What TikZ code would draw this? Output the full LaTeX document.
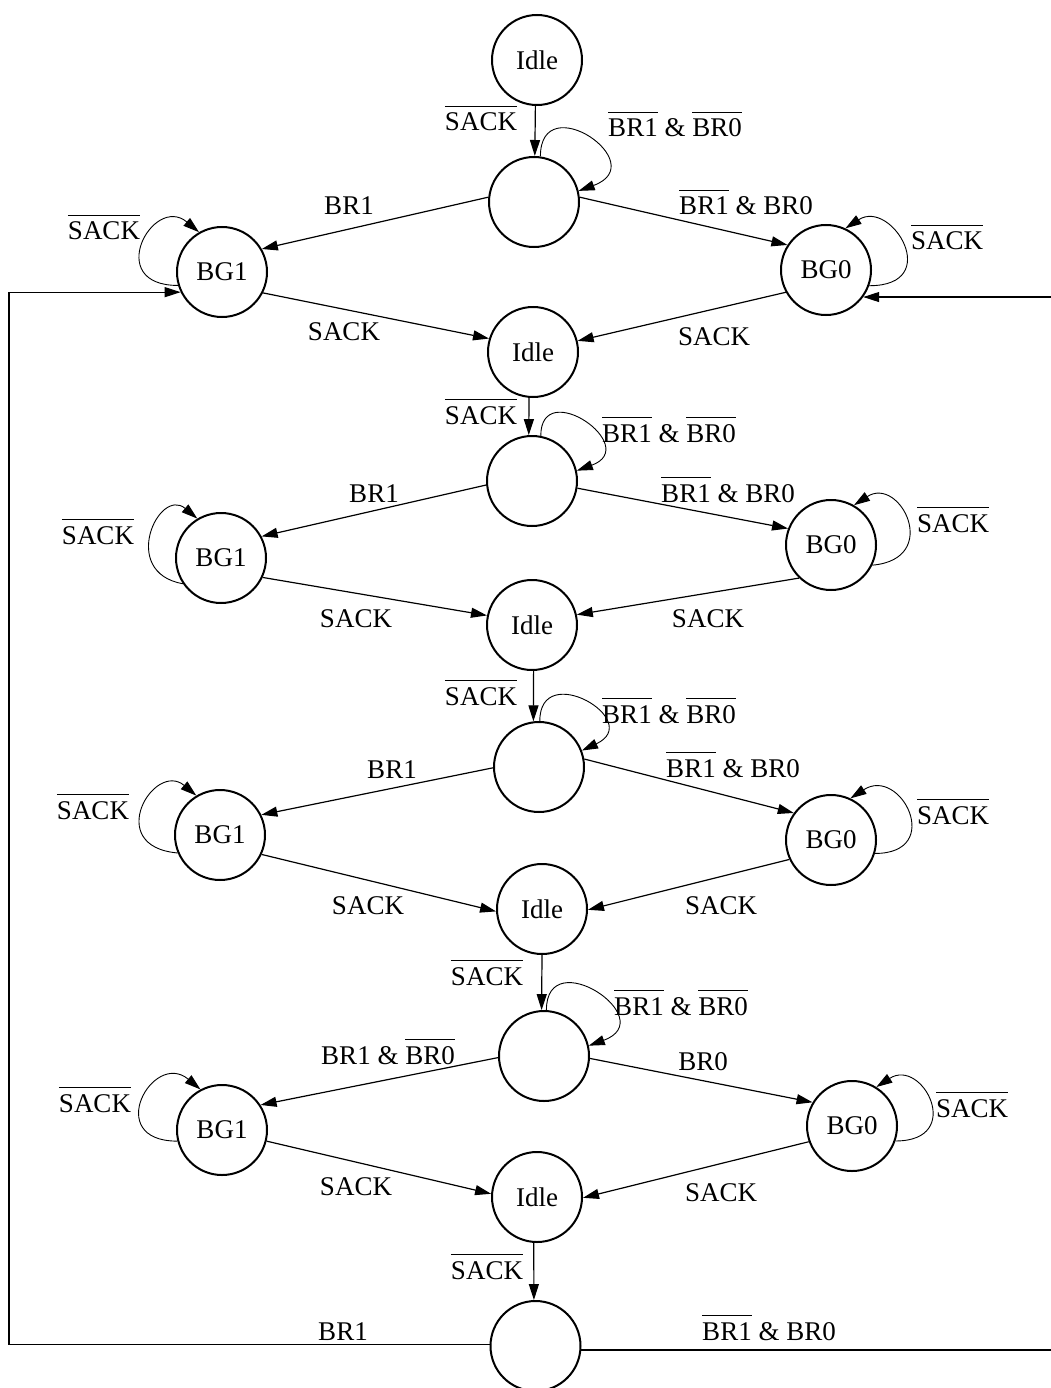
\documentclass[tikz,border=0pt]{standalone}
\usepackage{fontspec}
\setmainfont{Liberation Serif}
\usetikzlibrary{arrows.meta}
\newcommand\ovl[1]{\leavevmode\vbox{\hrule height 1.1pt\kern 6pt\hbox{#1}}}
\tikzset{
  every node/.style={font=\fontsize{27}{32}\selectfont},
  state/.style={circle, draw, line width=2pt, minimum size=90pt, inner sep=0pt},
  edge/.style={line width=1.2pt, -{Triangle[length=16pt,width=10pt]}},
  selfloop/.style={line width=0.9pt, -{Triangle[length=16pt,width=10pt]}},
  lbl/.style={anchor=base, inner sep=0pt}
}
\begin{document}
\begin{tikzpicture}[x=1pt,y=1pt]
\useasboundingbox (0,0) rectangle (1051,-1388);
\clip (0,0) rectangle (1051,-1388);
% states
\node[state] (Idle0) at (537,-60) {Idle};
\node[state] (S0) at (534,-202) {};
\node[state] (BG1a) at (222,-272) {BG1};
\node[state] (BG0a) at (826,-270) {BG0};
\node[state] (Idle1) at (533,-352) {Idle};
\node[state] (S1) at (532,-481) {};
\node[state] (BG1b) at (221,-558) {BG1};
\node[state] (BG0b) at (831,-545) {BG0};
\node[state] (Idle2) at (532,-625) {Idle};
\node[state] (S2) at (539,-767) {};
\node[state] (BG1c) at (220,-835) {BG1};
\node[state] (BG0c) at (831,-840) {BG0};
\node[state] (Idle3) at (542,-909) {Idle};
\node[state] (S3) at (544,-1056) {};
\node[state] (BG1d) at (222,-1130) {BG1};
\node[state] (BG0d) at (852,-1126) {BG0};
\node[state] (Idle4) at (537,-1197) {Idle};
\node[state] (S4) at (535.5,-1346) {};
% rails
\coordinate (railL) at (9,-800);
\coordinate (railR) at (1062,-800);
% edges
\draw[edge] (Idle0.268) -- (S0.89);
\draw[edge] (S0.174) -- (BG1a.30);
\draw[edge] (S0.6) -- (BG0a.147);
\draw[edge] (BG1a.333) -- (Idle1.163);
\draw[edge] (BG0a.209) -- (Idle1.14);
\draw[edge] (Idle1.265) -- (S1.94);
\draw[edge] (S1.185) -- (BG1b.28);
\draw[edge] (S1.351) -- (BG0b.159);
\draw[edge] (BG1b.335) -- (Idle2.168);
\draw[edge] (BG0b.226) -- (Idle2.13);
\draw[edge] (Idle2.272) -- (S2.97);
\draw[edge] (S2.181) -- (BG1c.26);
\draw[edge] (S2.10) -- (BG0c.144);
\draw[edge] (BG1c.335) -- (Idle3.183);
\draw[edge] (BG0c.205) -- (Idle3.359);
\draw[edge] (Idle3.270) -- (S3.93);
\draw[edge] (S3.182) -- (BG1d.33);
\draw[edge] (S3.357) -- (BG0d.149);
\draw[edge] (BG1d.346) -- (Idle4.176);
\draw[edge] (BG0d.200) -- (Idle4.359);
\draw[edge] (Idle4.266) -- (S4.92);
\draw[edge] (S4.178) -| (railL) |- (BG1a.206);
\draw[edge] (S4.355) -| (railR) |- (BG0a.324);
% self loops
\draw[selfloop] (S0.82) .. controls +(90:70) and +(20:80) .. (S0.14);
\draw[selfloop] (S1.79) .. controls +(90:60) and +(20:70) .. (S1.13);
\draw[selfloop] (S2.89) .. controls +(90:62) and +(25:70) .. (S2.21);
\draw[selfloop] (S3.87) .. controls +(90:68) and +(20:78) .. (S3.13);
\draw[selfloop] (BG1a.197) .. controls +(180:75) and +(140:60) .. (BG1a.120);
\draw[selfloop] (BG1b.214) .. controls +(170:65) and +(140:50) .. (BG1b.121);
\draw[selfloop] (BG1c.203) .. controls +(175:75) and +(140:55) .. (BG1c.121);
\draw[selfloop] (BG1d.194) .. controls +(180:75) and +(140:62) .. (BG1d.118);
\draw[selfloop] (BG0a.340) .. controls +(0:75) and +(33:55) .. (BG0a.65);
\draw[selfloop] (BG0b.334) .. controls +(5:70) and +(33:55) .. (BG0b.60);
\draw[selfloop] (BG0c.343) .. controls +(0:70) and +(33:60) .. (BG0c.65);
\draw[selfloop] (BG0d.341) .. controls +(0:70) and +(33:55) .. (BG0d.58);
% labels row 0
\node[lbl] (la1) at (481,-131) {\ovl{SACK}};
\node[lbl] (la2) at (675,-137) {\ovl{BR1} \& \ovl{BR0}};
\node[lbl] (la3) at (349,-215) {BR1};
\node[lbl] (la4) at (746,-215) {\ovl{BR1} \& BR0};
\node[lbl] (la5) at (104,-240) {\ovl{SACK}};
\node[lbl] (la6) at (947,-250) {\ovl{SACK}};
\node[lbl] (la7) at (344,-340) {SACK};
\node[lbl] (la8) at (714,-345) {SACK};
% labels row 1
\node[lbl] (lb1) at (481,-424) {\ovl{SACK}};
\node[lbl] (lb2) at (669,-442) {\ovl{BR1} \& \ovl{BR0}};
\node[lbl] (lb3) at (374,-502) {BR1};
\node[lbl] (lb4) at (728,-502) {\ovl{BR1} \& BR0};
\node[lbl] (lb5) at (98,-544) {\ovl{SACK}};
\node[lbl] (lb6) at (953,-532) {\ovl{SACK}};
\node[lbl] (lb7) at (356,-627) {SACK};
\node[lbl] (lb8) at (708,-627) {SACK};
% labels row 2
\node[lbl] (lc1) at (481,-705) {\ovl{SACK}};
\node[lbl] (lc2) at (669,-723) {\ovl{BR1} \& \ovl{BR0}};
\node[lbl] (lc3) at (392,-778) {BR1};
\node[lbl] (lc4) at (733,-777) {\ovl{BR1} \& BR0};
\node[lbl] (lc5) at (93,-819) {\ovl{SACK}};
\node[lbl] (lc6) at (953,-824) {\ovl{SACK}};
\node[lbl] (lc7) at (368,-914) {SACK};
\node[lbl] (lc8) at (721,-914) {SACK};
% labels row 3
\node[lbl] (ld1) at (487,-985) {\ovl{SACK}};
\node[lbl] (ld2) at (681,-1015) {\ovl{BR1} \& \ovl{BR0}};
\node[lbl] (ld3) at (388,-1064) {BR1 \& \ovl{BR0}};
\node[lbl] (ld4) at (703,-1070) {BR0};
\node[lbl] (ld5) at (95,-1112) {\ovl{SACK}};
\node[lbl] (ld6) at (972,-1117) {\ovl{SACK}};
\node[lbl] (ld7) at (356,-1195) {SACK};
\node[lbl] (ld8) at (721,-1201) {SACK};
% labels row 4
\node[lbl] (le1) at (487,-1279) {\ovl{SACK}};
\node[lbl] (le2) at (343,-1340) {BR1};
\node[lbl] (le3) at (769,-1340) {\ovl{BR1} \& BR0};
\end{tikzpicture}
\end{document}
